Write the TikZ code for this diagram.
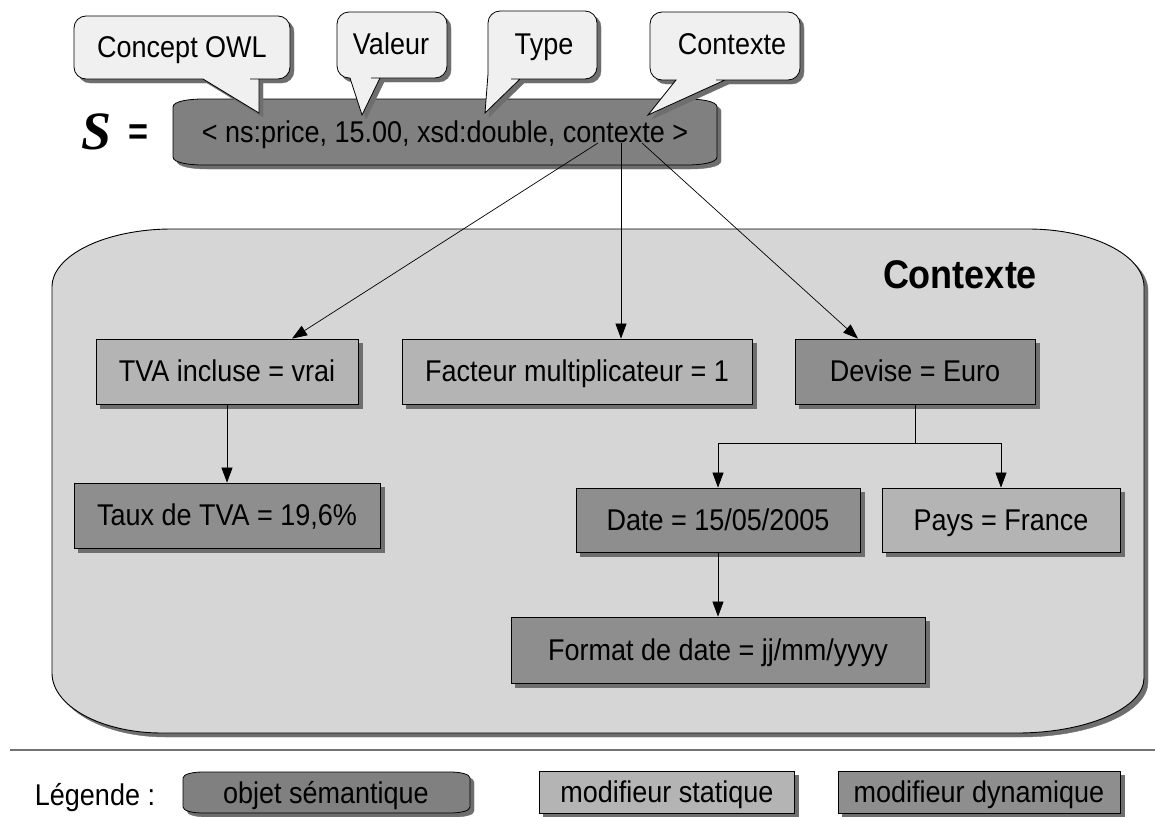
\documentclass[tikz,border=0pt]{standalone}
\usepackage{fontspec}
\setmainfont{Liberation Sans}[FakeStretch=0.9]
\newfontfamily\serifbi{Liberation Serif}
\usetikzlibrary{arrows.meta,calc}
\definecolor{semc}{HTML}{808080}
\definecolor{dync}{HTML}{8E8E8E}
\definecolor{statc}{HTML}{B4B4B4}
\definecolor{ctxc}{HTML}{D6D6D6}
\definecolor{callc}{HTML}{F0F0F0}
\definecolor{shadc}{HTML}{6E6E6E}
\tikzset{
  txt/.style={font=\fontsize{30}{34}\selectfont, inner sep=0pt, text height=26pt, text depth=6pt},
  shadowed/.style={preaction={fill=shadc, draw=shadc, transform canvas={shift={(4pt,-4pt)}}}},
  boxbase/.style={txt, draw=black, line width=0.8pt, shadowed, minimum height=65pt},
  statbox/.style={boxbase, fill=statc},
  dynbox/.style={boxbase, fill=dync},
  semshape/.style={fill=semc, draw=black, line width=0.8pt, shadowed},
  callshape/.style={fill=callc, draw=black, line width=0.8pt, shadowed},
  conn/.style={line width=0.7pt, -{Triangle[length=15pt,width=11pt]}},
  plain/.style={line width=0.7pt}
}
\begin{document}
\begin{tikzpicture}[x=1pt,y=-1pt]
\useasboundingbox (0,0) rectangle (1155,816);

% context box
\path[fill=ctxc, draw=black, line width=0.9pt, shadowed]
  (52,287) .. controls (52,255) and (106,229) .. (172,229)
  -- (1028,229) .. controls (1092,229) and (1144,255) .. (1144,287)
  -- (1144,678) .. controls (1144,708) and (1087,733) .. (1017,733)
  -- (162,733) .. controls (101,733) and (52,706) .. (52,673) -- cycle;
\node[font=\fontsize{40}{44}\selectfont\bfseries, inner sep=0pt] (ctxlabel) at (960,275) {Contexte};

% semantic object
\path[semshape] (173,107) .. controls (173,101) and (190,99) .. (203,99) -- (687,99)
  .. controls (700,99) and (717,101) .. (717,107) -- (717,157)
  .. controls (717,163) and (700,165) .. (687,165) -- (203,165)
  .. controls (190,165) and (173,163) .. (173,157) -- cycle;
\node[txt] (sem) at (445,132) {< ns:price, 15.00, xsd:double, contexte >};
\node[inner sep=0pt, font=\fontsize{54}{58}\selectfont\serifbi\bfseries\itshape] (S) at (97,132) {S};
\node[inner sep=0pt, font=\fontsize{38}{42}\selectfont\bfseries] (eq) at (138,135) {=};

\coordinate (c1) at (598,143);
\coordinate (c2) at (621,143);
\coordinate (c3) at (642,143);

% modifiers
\node[statbox, minimum width=262pt] (tva) at (227,371.5) {TVA incluse = vrai};
\node[dynbox, minimum width=306pt] (taux) at (227,515.5) {Taux de TVA = 19,6\%};
\node[statbox, minimum width=350pt] (fact) at (577,371.5) {Facteur multiplicateur = 1};
\node[dynbox, minimum width=240pt] (devise) at (915,371.5) {Devise = Euro};
\node[dynbox, minimum width=284pt, minimum height=64pt] (date) at (718,520) {Date = 15/05/2005};
\node[statbox, minimum width=238pt, minimum height=64pt] (pays) at (1001,520) {Pays = France};
\node[dynbox, minimum width=414pt, minimum height=66pt] (format) at (718,650) {Format de date = jj/mm/yyyy};

% connectors
\draw[conn] (c1) -- ([xshift=65pt]tva.north);
\draw[conn] (c2) -- (c2 |- fact.north);
\draw[conn] (c3) -- ([xshift=-57pt]devise.north);
\draw[conn] (tva.south) -- (tva.south |- taux.north);
\coordinate (split) at ($(devise.south)+(0,39)$);
\draw[plain] (devise.south) -- (split);
\draw[conn] (split) -| (date.north);
\draw[conn] (split) -| (pays.north);
\draw[conn] (date.south) -- (date.south |- format.north);

% callouts
\path[callshape] (259,113) -- (203,79) -- (198,79) [rounded corners=12pt] -- (74,79) -- (74,16) -- (290,16) -- (290,79) -- (262,79) [sharp corners] -- (259,79) -- cycle;
\node[txt] (cOWL) at (182,47) {Concept OWL};
\path[callshape] (362,115) -- (350,78) -- (348,78) [rounded corners=12pt] -- (337,78) -- (337,12) -- (447,12) -- (447,78) -- (383,78) [sharp corners] -- (380,78) -- cycle;
\node[txt] (cVal) at (391,45) {Valeur};
\path[callshape] (485,113) -- (488,74) -- (488,72) [rounded corners=12pt] -- (488,11) -- (597,11) -- (597,79) -- (523,79) [sharp corners] -- (520,79) -- cycle;
\node[txt] (cType) at (544,45) {Type};
\path[callshape] (648,115) -- (676,80) -- (673,80) [rounded corners=12pt] -- (650,80) -- (650,12) -- (800,12) -- (800,80) -- (728,80) [sharp corners] -- (725,80) -- cycle;
\node[txt] (cCtx) at (732,45) {Contexte};

% separator and legend
\coordinate (sepL) at (10,750);
\coordinate (sepR) at (1155,750);
\draw[line width=1.5pt, draw=black!55] (sepL) -- (sepR);
\node[txt] (leg) at (95,795) {Légende :};
\path[semshape] (183,778) .. controls (183,774) and (193,772) .. (203,772) -- (450,772)
  .. controls (460,772) and (470,774) .. (470,778) -- (470,807)
  .. controls (470,811) and (460,813) .. (450,813) -- (203,813)
  .. controls (193,813) and (183,811) .. (183,807) -- cycle;
\node[txt] (legsem) at (326,793) {objet sémantique};
\node[statbox, minimum width=255pt, minimum height=42pt] (legstat) at (667,792) {modifieur statique};
\node[dynbox, minimum width=282pt, minimum height=42pt] (legdyn) at (979,792) {modifieur dynamique};
\end{tikzpicture}
\end{document}
